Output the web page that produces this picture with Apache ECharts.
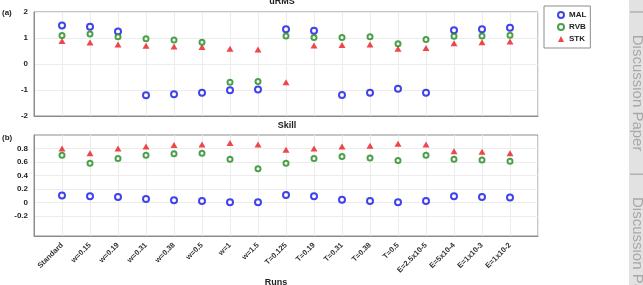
<!DOCTYPE html>
<html>
<head>
<meta charset="utf-8">
<script src="https://cdn.jsdelivr.net/npm/echarts@6/dist/echarts.min.js"></script>
<style>
html, body { margin: 0; padding: 0; background: #fff; }
#main { width: 643px; height: 285px; }
</style>
</head>
<body>
<div id="main"></div>
<script>
// runs along the x axis
var runs = ['Standard', 'w=0.15', 'w=0.19', 'w=0.31', 'w=0.38', 'w=0.5', 'w=1', 'w=1.5',
	'T=0.125', 'T=0.19', 'T=0.31', 'T=0.38', 'T=0.5',
	'E=2.5x10-5', 'E=5x10-4', 'E=1x10-3', 'E=1x10-2'];

// (a) uRMS
var urmsMAL = [1.48, 1.43, 1.25, -1.20, -1.16, -1.11, -1.01, -0.98, 1.34, 1.28, -1.19, -1.11, -0.95, -1.11, 1.30, 1.34, 1.39];
var urmsRVB = [1.10, 1.15, 1.05, 0.97, 0.92, 0.84, -0.70, -0.67, 1.08, 1.02, 1.02, 1.05, 0.78, 0.94, 1.07, 1.08, 1.11];
var urmsSTK = [0.88, 0.83, 0.75, 0.70, 0.67, 0.65, 0.59, 0.56, -0.70, 0.71, 0.73, 0.75, 0.59, 0.62, 0.80, 0.84, 0.87];

// (b) Skill
var skillMAL = [0.10, 0.09, 0.08, 0.05, 0.03, 0.02, 0.00, 0.00, 0.11, 0.09, 0.04, 0.02, 0.00, 0.02, 0.09, 0.08, 0.07];
var skillRVB = [0.70, 0.58, 0.65, 0.70, 0.72, 0.73, 0.64, 0.50, 0.58, 0.65, 0.68, 0.66, 0.62, 0.70, 0.64, 0.63, 0.61];
var skillSTK = [0.80, 0.73, 0.80, 0.83, 0.85, 0.86, 0.88, 0.86, 0.78, 0.80, 0.83, 0.84, 0.87, 0.86, 0.76, 0.75, 0.73];

var skillTicks = [-0.2, 0, 0.2, 0.4, 0.6, 0.8];

var FONT = 'Liberation Sans';
var cBlue = '#1414e6', cGreen = '#1e8a1e', cRed = '#ea1a1e';

// x position of each run is its index + 1
function pts(arr) {
	var out = [];
	for (var i = 0; i < arr.length; i++) {
		out.push([i + 1, arr[i]]);
	}
	return out;
}

function xAxisOpt(idx, showLabel) {
	return {
		type: 'value', gridIndex: idx, min: 0, max: 18, interval: 1,
		axisLine: { show: true, onZero: false, lineStyle: { color: '#8c8c8c' } },
		axisTick: { show: false },
		splitLine: { show: true, lineStyle: { color: '#ececec' } },
		axisLabel: {
			show: showLabel, rotate: 45, margin: 8,
			fontFamily: FONT, fontSize: 7.5, fontWeight: 'bold', color: '#333',
			formatter: function(v) {
				return (v >= 1 && v <= runs.length) ? runs[v - 1] : '';
			}
		}
	};
}

function ring(name, color, size, data, xi, yi) {
	return {
		name: name, type: 'scatter', xAxisIndex: xi, yAxisIndex: yi,
		symbol: 'circle', symbolSize: size,
		itemStyle: { color: '#fff', borderColor: color, borderWidth: 2 },
		data: data, z: 3
	};
}

function tri(data, xi, yi) {
	return {
		name: 'STK', type: 'scatter', xAxisIndex: xi, yAxisIndex: yi,
		symbol: 'triangle', symbolSize: [7, 6],
		itemStyle: { color: cRed },
		data: data, z: 2
	};
}

var chart = echarts.init(document.getElementById('main'));

var option = {
	backgroundColor: '#fff',
	animation: false,
	grid: [
		{ left: 34, width: 504, top: 12, height: 104, show: true, borderColor: '#8c8c8c', borderWidth: 1, backgroundColor: 'transparent' },
		{ left: 34, width: 504, top: 135, height: 101, show: true, borderColor: '#8c8c8c', borderWidth: 1, backgroundColor: 'transparent' }
	],
	xAxis: [xAxisOpt(0, false), xAxisOpt(1, true)],
	yAxis: [
		{
			type: 'value', gridIndex: 0, min: -2, max: 2, interval: 1,
			axisLine: { show: true, lineStyle: { color: '#8c8c8c' } },
			axisTick: { show: false },
			splitLine: { lineStyle: { color: '#ececec' } },
			axisLabel: { fontFamily: FONT, fontSize: 8, fontWeight: 'bold', color: '#222', margin: 6 }
		},
		{
			type: 'value', gridIndex: 1, min: -0.5, max: 1,
			axisLine: { show: true, lineStyle: { color: '#8c8c8c' } },
			axisTick: { show: false, customValues: skillTicks },
			splitLine: { lineStyle: { color: '#ececec' } },
			axisLabel: {
				customValues: skillTicks,
				fontFamily: FONT, fontSize: 8, fontWeight: 'bold', color: '#222', margin: 6,
				formatter: function(v) { return Math.abs(v) < 1e-9 ? '0' : v.toFixed(1); }
			}
		}
	],
	legend: {
		orient: 'vertical', left: 544, top: 6,
		data: ['MAL', 'RVB', 'STK'],
		itemWidth: 6, itemHeight: 6, itemGap: 2,
		padding: [4, 4, 4, 13],
		borderColor: '#8c8c8c', borderWidth: 1, borderRadius: 0,
		textStyle: { fontFamily: FONT, fontSize: 8, fontWeight: 'bold', color: '#222', lineHeight: 10 }
	},
	graphic: [
		{ type: 'text', left: 2, top: 9, style: { text: '(a)', font: 'bold 8px ' + FONT, fill: '#222' } },
		{ type: 'text', left: 2, top: 134, style: { text: '(b)', font: 'bold 8px ' + FONT, fill: '#222' } },
		{ type: 'text', x: 282, y: -3, style: { text: 'uRMS', font: 'bold 9px ' + FONT, fill: '#222', align: 'center' } },
		{ type: 'text', x: 287, y: 121, style: { text: 'Skill', font: 'bold 9px ' + FONT, fill: '#222', align: 'center' } },
		{ type: 'text', x: 276, y: 278, style: { text: 'Runs', font: 'bold 9px ' + FONT, fill: '#222', align: 'center' } },
		{ type: 'rect', shape: { x: 629, y: 0, width: 14, height: 285 }, style: { fill: '#e2e2e2' } },
		{
			type: 'text', x: 645, y: 10, rotation: -Math.PI / 2,
			style: { text: '|     Discussion Paper     |     Discussion Paper', font: '15px ' + FONT, fill: '#a8a8a8' }
		}
	],
	series: [
		ring('MAL', cBlue, 6, pts(urmsMAL), 0, 0),
		ring('RVB', cGreen, 5, pts(urmsRVB), 0, 0),
		tri(pts(urmsSTK), 0, 0),
		ring('MAL', cBlue, 6, pts(skillMAL), 1, 1),
		ring('RVB', cGreen, 5, pts(skillRVB), 1, 1),
		tri(pts(skillSTK), 1, 1)
	]
};

chart.setOption(option);
</script>
</body>
</html>
